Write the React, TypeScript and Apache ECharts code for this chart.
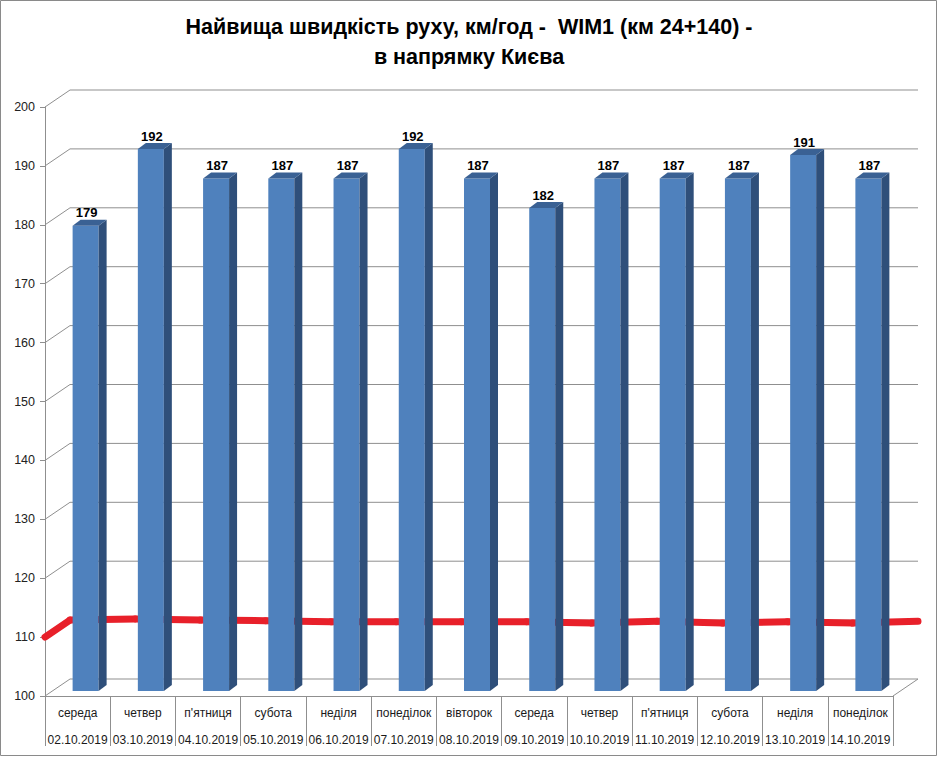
import React, { useEffect, useRef } from "react";
import * as echarts from "echarts";

const dayNames = ["середа", "четвер", "п'ятниця", "субота", "неділя", "понеділок", "вівторок", "середа", "четвер", "п'ятниця", "субота", "неділя", "понеділок"];
const dates = ["02.10.2019", "03.10.2019", "04.10.2019", "05.10.2019", "06.10.2019", "07.10.2019", "08.10.2019", "09.10.2019", "10.10.2019", "11.10.2019", "12.10.2019", "13.10.2019", "14.10.2019"];
const maxSpeed = [179, 192, 187, 187, 187, 192, 187, 182, 187, 187, 187, 191, 187];
// red limit line, one value per category boundary (drawn on the back wall)
const limitLine = [110, 110.2, 110, 109.9, 109.7, 109.7, 109.7, 109.7, 109.5, 109.8, 109.5, 109.7, 109.5, 109.8];
const yTicks = [100, 110, 120, 130, 140, 150, 160, 170, 180, 190, 200];

const FONT = "'Liberation Sans', Arial, sans-serif";
const DX = 25; // back wall depth offset
const DY = -17;
const BAR_L = -5; // bar front face offset from category centre
const BAR_W = 26;
const BAR_UP = -5;
const BDX = 8; // bar depth
const BDY = -6;
const GRID_COLOR = "#8f8f8f";

export default function App() {
  const ref = useRef<HTMLDivElement>(null);
  useEffect(() => {
    if (!ref.current) return;
    const chart = echarts.init(ref.current, null, { renderer: "svg" });
    const n = dates.length;
    chart.setOption({
      animation: false,
      backgroundColor: "#ffffff",
      title: {
        text: "Найвища швидкість руху, км/год -  WIM1 (км 24+140) -\nв напрямку Києва",
        left: "center",
        top: 7,
        textStyle: { fontFamily: FONT, fontWeight: "bold", fontSize: 21.5, lineHeight: 30, color: "#000" },
      },
      graphic: [
        { type: "rect", shape: { x: 0.5, y: 0.5, width: 936, height: 755 }, style: { fill: "none", stroke: "#8a8a8a", lineWidth: 1 }, silent: true },
      ],
      grid: { left: 45, right: 45, top: 107, bottom: 61 },
      xAxis: {
        type: "category",
        data: dates,
        axisLine: { show: true, lineStyle: { color: GRID_COLOR } },
        axisTick: { show: true, length: 50, interval: 0, lineStyle: { color: GRID_COLOR } },
        splitLine: { show: false },
        axisLabel: {
          interval: 0,
          margin: 3,
          formatter: (_v: string, idx: number) => `{d|${dayNames[idx]}}\n{t|${dates[idx]}}`,
          rich: {
            d: { fontFamily: FONT, fontSize: 12, lineHeight: 27, color: "#1a1a1a" },
            t: { fontFamily: FONT, fontSize: 12, lineHeight: 27, color: "#1a1a1a" },
          },
        },
      },
      yAxis: {
        type: "value",
        min: 100,
        max: 200,
        interval: 10,
        axisLine: { show: true, lineStyle: { color: GRID_COLOR } },
        axisTick: { show: true, length: 5, lineStyle: { color: GRID_COLOR } },
        splitLine: { show: false },
        axisLabel: { margin: 10, fontFamily: FONT, fontSize: 12.5, color: "#222" },
      },
      series: [
        {
          type: "custom",
          name: "walls",
          z: 1,
          silent: true,
          data: yTicks.map((v) => [0, v]),
          renderItem: (_p: any, api: any) => {
            const v = api.value(1);
            const bw = api.size([1, 0])[0];
            const c0 = api.coord([0, v]);
            const x0 = c0[0] - bw / 2;
            const x1 = api.coord([n - 1, v])[0] + bw / 2;
            const y = c0[1];
            const style = { stroke: GRID_COLOR, lineWidth: 1 };
            const children: any[] = [
              { type: "line", shape: { x1: x0, y1: y, x2: x0 + DX, y2: y + DY }, style },
              { type: "line", shape: { x1: x0 + DX, y1: y + DY, x2: x1 + DX, y2: y + DY }, style },
            ];
            if (v === 100) {
              children.push({ type: "line", shape: { x1: x1, y1: y, x2: x1 + DX, y2: y + DY }, style });
            }
            return { type: "group", children };
          },
        },
        {
          type: "custom",
          name: "limit",
          z: 2,
          silent: true,
          data: limitLine.map((v, i) => [i, v]),
          renderItem: (p: any, api: any) => {
            const i = p.dataIndex;
            const v = api.value(1);
            const bw = api.size([1, 0])[0];
            const x0 = api.coord([0, v])[0] - bw / 2;
            const y = api.coord([0, v])[1];
            let a: number[];
            if (i === 0) {
              a = [x0, api.coord([0, v])[1]];
            } else {
              a = [x0 + (i - 1) * bw + DX, api.coord([0, limitLine[i - 1]])[1] + DY];
            }
            const b = [x0 + i * bw + DX, y + DY];
            return {
              type: "line",
              shape: { x1: a[0], y1: a[1], x2: b[0], y2: b[1] },
              style: { stroke: "#e8202a", lineWidth: 7, lineCap: "round" },
            };
          },
        },
        {
          type: "custom",
          name: "speed",
          z: 3,
          data: maxSpeed.map((v, i) => [i, v]),
          renderItem: (_p: any, api: any) => {
            const i = api.value(0);
            const v = api.value(1);
            const top = api.coord([i, v]);
            const base = api.coord([i, 100]);
            const xl = top[0] + BAR_L;
            const xr = xl + BAR_W;
            const yt = top[1] + BAR_UP;
            const yb = base[1] + BAR_UP;
            return {
              type: "group",
              children: [
                { type: "rect", shape: { x: xl, y: yt, width: BAR_W, height: yb - yt }, style: { fill: "#4f81bd" } },
                { type: "polygon", shape: { points: [[xr, yt], [xr + BDX, yt + BDY], [xr + BDX, yb + BDY], [xr, yb]] }, style: { fill: "#2f4f7a" } },
                { type: "polygon", shape: { points: [[xl, yt], [xl + BDX, yt + BDY], [xr + BDX, yt + BDY], [xr, yt]] }, style: { fill: "#3a6194" } },
                {
                  type: "text",
                  style: {
                    text: String(v),
                    x: xl + BAR_W / 2 + 1,
                    y: yt - 13,
                    align: "center",
                    verticalAlign: "middle",
                    fontFamily: FONT,
                    fontWeight: "bold",
                    fontSize: 13,
                    fill: "#000",
                  },
                },
              ],
            };
          },
        },
      ],
    });
    return () => chart.dispose();
  }, []);
  return <div ref={ref} style={{ position: "fixed", left: 0, top: 0, width: 938, height: 757 }} />;
}
